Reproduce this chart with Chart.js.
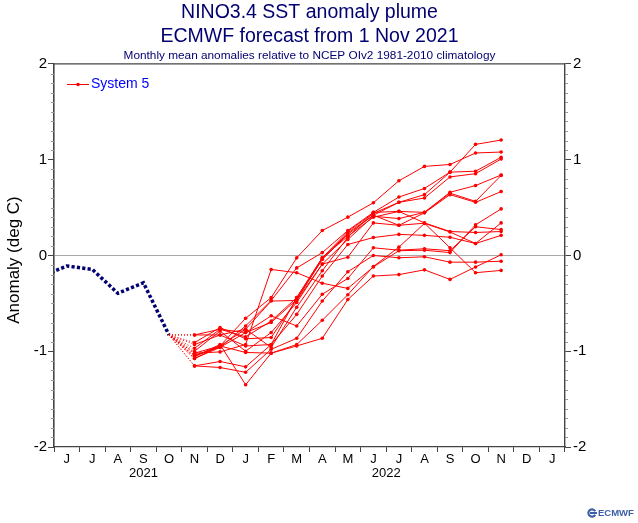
<!DOCTYPE html>
<html>
<head>
<meta charset="utf-8">
<title>NINO3.4 SST anomaly plume</title>
<script src="https://cdn.jsdelivr.net/npm/chart.js@4/dist/chart.umd.min.js"></script>
<style>
    html, body { margin: 0; padding: 0; background: #fff; }
    canvas { display: block; }
</style>
</head>
<body>
<canvas id="plume" width="638" height="523"></canvas>
<script>
// Month labels, Jun 2021 to Jan 2023
const monthLabels = ['J', 'J', 'A', 'S', 'O', 'N', 'D', 'J', 'F', 'M', 'A', 'M', 'J', 'J', 'A', 'S', 'O', 'N', 'D', 'J'];
const yearLabels = ['2021', '2022'];
const yTicks = [-2, -1, 0, 1, 2];

// Observed analysis, May 2021 to Oct 2021 (May falls off the left edge)
const observed = [-0.22, -0.11, -0.146, -0.395, -0.285, -0.83];

// Forecast members, Nov 2021 to Nov 2022
const member01 = [-1.076, -0.945, -0.656, -0.44, -0.025, 0.26, 0.40, 0.55, 0.78, 0.93, 0.95, 1.07, 1.08];
const member02 = [-1.04, -0.96, -0.736, -0.47, -0.13, 0.03, 0.26, 0.45, 0.61, 0.70, 0.87, 1.16, 1.205];
const member03 = [-0.83, -0.77, -0.85, -0.685, -0.44, -0.025, 0.25, 0.44, 0.555, 0.635, 0.87, 0.88, 1.025];
const member04 = [-0.91, -0.753, -0.87, -0.857, -0.46, -0.04, 0.235, 0.42, 0.555, 0.60, 0.82, 0.854, 1.007];
const member05 = [-0.93, -0.83, -0.945, -0.93, -0.44, -0.025, 0.20, 0.40, 0.46, 0.45, 0.66, 0.73, 0.84];
const member06 = [-1.0, -0.79, -1.0, -0.805, -0.49, -0.09, 0.167, 0.41, 0.385, 0.45, 0.65, 0.565, 0.836];
const member07 = [-0.97, -0.77, -0.805, -0.70, -0.46, -0.04, 0.22, 0.42, 0.315, 0.445, 0.635, 0.555, 0.667];
const member08 = [-0.83, -0.83, -0.77, -0.96, -0.54, -0.16, 0.19, 0.45, 0.46, 0.34, 0.25, 0.24, 0.25];
const member09 = [-1.02, -0.945, -0.77, -0.476, -0.47, -0.09, -0.018, 0.34, 0.315, 0.337, 0.08, -0.18, -0.156];
const member10 = [-1.153, -1.107, -1.163, -0.93, -0.615, -0.215, 0.115, 0.187, 0.22, 0.21, 0.19, 0.125, 0.34];
const member11 = [-1.055, -0.945, -1.013, -1.02, -0.93, -0.677, -0.41, -0.115, 0.087, 0.335, 0.245, 0.125, 0.21];
const member12 = [-1.076, -0.96, -0.805, -0.63, -0.736, -0.405, -0.24, 0.08, 0.055, 0.07, 0.05, 0.30, 0.27];
const member13 = [-1.02, -1.007, -0.93, -0.146, -0.18, -0.29, -0.344, -0.12, 0.05, 0.055, 0.03, 0.32, 0.486];
const member14 = [-1.153, -1.17, -1.22, -0.98, -0.865, -0.476, -0.17, 0.0, -0.024, -0.014, -0.07, -0.07, -0.06];
const member15 = [-1.055, -0.93, -1.35, -1.02, -0.945, -0.865, -0.46, -0.215, -0.2, -0.15, -0.25, -0.12, 0.007];
const members = [member01, member02, member03, member04, member05, member06, member07, member08,
    member09, member10, member11, member12, member13, member14, member15];

const RED = '#ff0000';
const NAVY = '#000070';
const AXIS = '#444444';
const OCT_X = 4.5;

// Observed line
const observedPoints = observed.map((v, i) => ({ x: i - 0.5, y: v }));

// Every member starts from the last observed value with a dotted stretch
const memberDatasets = members.map((values, m) => ({
    label: m === 0 ? 'System 5' : 'member ' + (m + 1),
    data: [{ x: OCT_X, y: observed[observed.length - 1] }]
        .concat(values.map((v, i) => ({ x: OCT_X + 1 + i, y: v }))),
    borderColor: RED,
    backgroundColor: RED,
    borderWidth: 1,
    pointRadius: (ctx) => ctx.dataIndex === 0 ? 0 : 1.8,
    pointBorderWidth: 0,
    tension: 0,
    clip: 0,
    segment: {
        borderDash: (ctx) => ctx.p0DataIndex === 0 ? [1, 2] : undefined
    }
}));

// Frame top, minor ticks, axis title, year labels, legend and logo
const decorations = {
    id: 'decorations',
    afterDraw(chart) {
        const { ctx, chartArea: area, scales } = chart;
        ctx.save();
        ctx.strokeStyle = AXIS;
        ctx.lineWidth = 1.2;
        ctx.beginPath();
        ctx.moveTo(area.left, area.top);
        ctx.lineTo(area.right, area.top);
        ctx.stroke();

        // Minor ticks on both sides
        ctx.lineWidth = 1;
        ctx.strokeStyle = '#999999';
        ctx.beginPath();
        for (let i = -20; i <= 20; i++) {
            if (i % 10 === 0) continue;
            const y = Math.round(scales.y.getPixelForValue(i / 10)) + 0.5;
            ctx.moveTo(area.left - 3, y);
            ctx.lineTo(area.left, y);
            ctx.moveTo(area.right, y);
            ctx.lineTo(area.right + 3, y);
        }
        ctx.stroke();

        // Axis title
        ctx.fillStyle = '#000000';
        ctx.textAlign = 'center';
        ctx.textBaseline = 'middle';
        ctx.save();
        ctx.translate(14, 260);
        ctx.rotate(-Math.PI / 2);
        ctx.font = '17px "Liberation Sans"';
        ctx.fillText('Anomaly (deg C)', 0, 0);
        ctx.restore();

        // Years, centred under their own months
        ctx.font = '13px "Liberation Sans"';
        ctx.fillText(yearLabels[0], scales.x.getPixelForValue(3.5), 473);
        ctx.fillText(yearLabels[1], scales.x.getPixelForValue(13), 473);

        // Legend
        ctx.strokeStyle = RED;
        ctx.fillStyle = RED;
        ctx.beginPath();
        ctx.moveTo(67, 84.5);
        ctx.lineTo(89, 84.5);
        ctx.stroke();
        ctx.beginPath();
        ctx.arc(78, 84.5, 1.8, 0, Math.PI * 2);
        ctx.fill();
        ctx.fillStyle = '#0000ff';
        ctx.font = '14px "Liberation Sans"';
        ctx.textAlign = 'left';
        ctx.fillText('System 5', 91, 84.5);

        // ECMWF mark
        ctx.strokeStyle = '#3b5fa8';
        ctx.lineWidth = 2.2;
        ctx.beginPath();
        ctx.arc(592, 513, 3.6, 0.5, Math.PI * 2 - 0.5);
        ctx.moveTo(590, 513);
        ctx.lineTo(597, 513);
        ctx.stroke();
        ctx.fillStyle = '#3b5fa8';
        ctx.font = 'bold 9.5px "Liberation Sans"';
        ctx.fillText('ECMWF', 598, 513.5);
        ctx.restore();
    }
};

new Chart(document.getElementById('plume'), {
    type: 'line',
    data: {
        datasets: memberDatasets.concat([{
            label: 'Observed',
            data: observedPoints,
            borderColor: NAVY,
            borderWidth: 3.5,
            borderDash: [3.2, 2.2],
            pointRadius: 0,
            tension: 0
        }])
    },
    plugins: [decorations],
    options: {
        responsive: false,
        animation: false,
        layout: { padding: 0 },
        plugins: {
            legend: { display: false },
            tooltip: { enabled: false },
            title: {
                display: true,
                fullSize: false,
                text: ['NINO3.4 SST anomaly plume', 'ECMWF forecast from 1 Nov 2021'],
                color: NAVY,
                font: { family: '"Liberation Sans"', size: 19.5, weight: 'normal', lineHeight: 1.23 },
                padding: { top: 1, bottom: 0 }
            },
            subtitle: {
                display: true,
                fullSize: false,
                text: 'Monthly mean anomalies relative to NCEP OIv2 1981-2010 climatology',
                color: NAVY,
                font: { family: '"Liberation Sans"', size: 11.8, weight: 'normal', lineHeight: 1.2 },
                padding: { top: 0, bottom: 0.8 }
            }
        },
        scales: {
            x: {
                type: 'linear',
                display: false,
                min: 0,
                max: monthLabels.length
            },
            months: {
                type: 'category',
                position: 'bottom',
                labels: monthLabels,
                offset: true,
                grid: { offset: true, drawOnChartArea: false, tickColor: AXIS, tickLength: 5 },
                border: { color: AXIS, width: 1.2 },
                ticks: {
                    color: '#000000',
                    autoSkip: false,
                    maxRotation: 0,
                    padding: 0,
                    font: { family: '"Liberation Sans"', size: 13 }
                },
                afterFit: (scale) => { scale.height = 76; }
            },
            y: {
                position: 'left',
                min: yTicks[0],
                max: yTicks[yTicks.length - 1],
                afterBuildTicks: (scale) => { scale.ticks = yTicks.map(v => ({ value: v })); },
                grid: {
                    color: (ctx) => ctx.tick && ctx.tick.value === 0 ? '#aaaaaa' : 'transparent',
                    tickColor: AXIS,
                    tickLength: 6
                },
                border: { color: AXIS, width: 1.6 },
                ticks: {
                    color: '#000000',
                    padding: 1,
                    font: { family: '"Liberation Sans"', size: 15 }
                },
                afterFit: (scale) => { scale.width = 54; }
            },
            y2: {
                position: 'right',
                min: yTicks[0],
                max: yTicks[yTicks.length - 1],
                afterBuildTicks: (scale) => { scale.ticks = yTicks.map(v => ({ value: v })); },
                grid: { drawOnChartArea: false, tickColor: AXIS, tickLength: 6 },
                border: { color: AXIS, width: 1.4 },
                ticks: {
                    color: '#000000',
                    padding: 2,
                    font: { family: '"Liberation Sans"', size: 15 }
                },
                afterFit: (scale) => { scale.width = 73; }
            }
        }
    }
});
</script>
</body>
</html>
